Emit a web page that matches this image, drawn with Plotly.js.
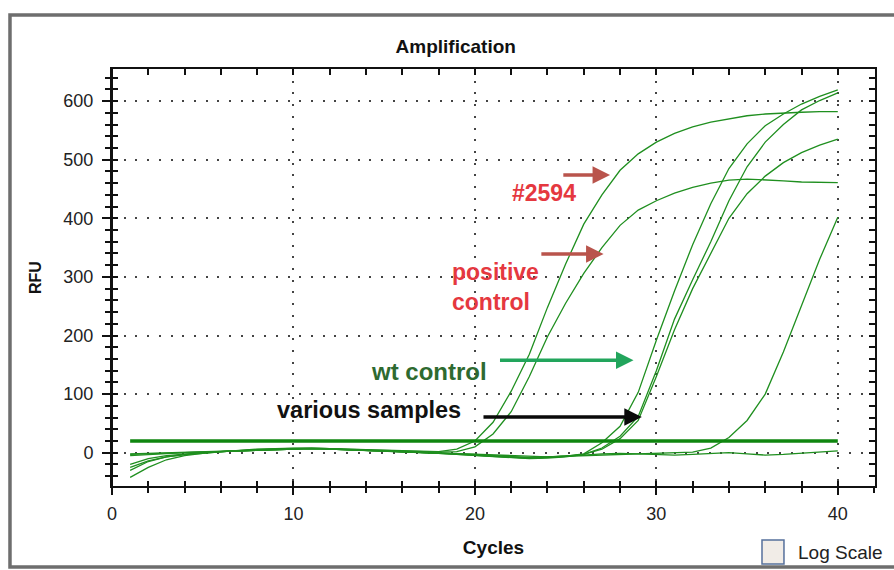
<!DOCTYPE html>
<html>
<head>
<meta charset="utf-8">
<script src="https://cdn.plot.ly/plotly-3.0.1.min.js"></script>
<style>
  html, body { margin: 0; padding: 0; background: #ffffff; overflow: hidden; }
  #chart { width: 894px; height: 570px; }
</style>
</head>
<body>
<div id="chart"></div>
<script>
// ---- data ----
const cycles = [1,2,3,4,5,6,7,8,9,10,11,12,13,14,15,16,17,18,19,20,
                21,22,23,24,25,26,27,28,29,30,31,32,33,34,35,36,37,38,39,40];

// #2594
const sample2594 = [-20,-10,-5,-2,0,2,4,6,7,8,8,7,6,5,4,3,2,2,
                    6,20,52,105,168,248,322,390,440,482,510,530,545,556,564,570,575,578,580,581,582,582];
// positive control
const positiveControl = [-30,-15,-7,-3,-1,2,4,6,7,8,8,7,6,5,4,3,2,1,2,
                         10,32,70,130,198,255,306,350,388,414,430,443,453,460,465,467,466,464,462,461,461];
// wt control
const wtControl = [-5,-3,-1,0,1,2,4,5,6,7,7,6,5,4,3,2,1,0,-2,-4,-6,-8,-9,-8,-6,-2,
                   17,45,103,192,276,355,425,485,527,558,578,595,608,619];
// various samples
const sampleA = [-42,-25,-12,-5,-1,2,3,5,6,7,8,7,5,4,3,2,1,-1,-3,-5,-7,-9,-10,-9,-7,-3,
                 8,28,62,140,228,295,360,430,488,530,560,585,601,614];
const sampleB = [-25,-14,-7,-3,0,2,3,5,6,6,7,6,5,4,3,2,0,-1,-3,-5,-6,-8,-9,-8,-6,-3,
                 6,24,55,130,210,280,340,400,442,472,495,512,525,535];
const sampleC = [-2,-1,0,1,2,3,4,5,6,7,7,6,5,4,3,2,1,0,-1,-2,-4,-5,-6,-7,-6,-5,-4,-3,-3,-2,-1,1,
                 8,26,55,100,172,252,330,402];
const negative = [-3,-2,-1,0,1,2,4,5,6,7,7,6,5,4,3,2,1,0,-1,-3,-5,-7,-8,-7,-6,-4,-2,-1,-2,-3,
                  -4,-3,-2,0,-2,-4,-3,-1,0,3];
const thresholdCycles = [1, 40];
const thresholdValue = 20;

// ticks: labelled every 10 cycles / 100 RFU, small marks every 2 cycles / 20 RFU
const xMajorStep = 10, xMinorStep = 2;
const yMajorStep = 100, yMinorStep = 20;

// ---- styling ----
const FONT = 'Liberation Sans, Arial, Helvetica, sans-serif';
const CURVE = '#1f8f1f';
const curveSeries = [sample2594, positiveControl, wtControl, sampleA, sampleB, sampleC, negative];

const traces = curveSeries.map(vals => ({
  type: 'scatter', mode: 'lines', x: cycles, y: vals,
  line: { color: CURVE, width: 1.3 }, showlegend: false, hoverinfo: 'skip'
}));
traces.push({
  type: 'scatter', mode: 'lines', x: thresholdCycles,
  y: thresholdCycles.map(() => thresholdValue),
  line: { color: '#0f860f', width: 3.5 }, showlegend: false, hoverinfo: 'skip'
});
// single-point (invisible) line traces that create the extra tick-mark axes
['2', '3', '4'].forEach(n => traces.push({
  type: 'scatter', mode: 'lines', x: [cycles[0]], y: [negative[0]],
  xaxis: 'x' + n, yaxis: 'y' + n, line: { width: 0 }, showlegend: false, hoverinfo: 'skip'
}));

const XR = [0, 42.05];
const YR = [-56.8, 654.8];

const TICKFONT = { family: FONT, size: 18, color: '#222' };

function tickAxis(extra) {
  return Object.assign({
    showline: true, linecolor: '#111', linewidth: 2, zeroline: false, showgrid: false,
    showticklabels: false, tickmode: 'linear', tick0: 0, tickwidth: 2, tickcolor: '#111'
  }, extra);
}

const layout = {
  width: 894, height: 570,
  margin: { l: 112, r: 19, t: 69, b: 84, pad: 0 },
  paper_bgcolor: '#ffffff', plot_bgcolor: '#ffffff',
  showlegend: false,
  title: {
    text: '<b>Amplification</b>',
    font: { family: FONT, size: 19, color: '#111' },
    xref: 'paper', x: 0.4505, xanchor: 'center',
    yref: 'container', y: 1 - 46 / 570, yanchor: 'middle'
  },
  xaxis: {
    range: XR, tickmode: 'linear', tick0: 0, dtick: xMajorStep,
    showline: true, linecolor: '#111', linewidth: 2, zeroline: false,
    ticks: 'outside', ticklen: 7, tickwidth: 2, tickcolor: '#111',
    tickfont: TICKFONT, ticklabelstandoff: 3,
    showgrid: true, gridcolor: '#444', gridwidth: 2, griddash: '2px,9.7px',
    title: { text: '<b>Cycles</b>', font: { family: FONT, size: 19, color: '#111' }, standoff: 18 }
  },
  yaxis: {
    range: YR, tickmode: 'linear', tick0: 0, dtick: yMajorStep,
    showline: true, linecolor: '#111', linewidth: 2, zeroline: false,
    ticks: 'outside', ticklen: 8, tickwidth: 2, tickcolor: '#111',
    tickfont: TICKFONT, ticklabelstandoff: 5,
    showgrid: true, gridcolor: '#444', gridwidth: 2, griddash: '2px,9.7px',
    title: { text: '<b>RFU</b>', font: { family: FONT, size: 16, color: '#111' }, standoff: 18 }
  },
  // top and right frame: small inward marks
  xaxis2: tickAxis({ overlaying: 'x', side: 'top', anchor: 'y2', range: XR, dtick: xMinorStep,
    ticks: 'inside', ticklen: 6 }),
  yaxis2: tickAxis({ overlaying: 'y', side: 'right', anchor: 'x2', range: YR, dtick: yMinorStep,
    ticks: 'inside', ticklen: 6 }),
  // bottom and left: small marks crossing the axis line
  xaxis3: tickAxis({ overlaying: 'x', side: 'bottom', anchor: 'y3', range: XR, dtick: xMinorStep,
    ticks: 'outside', ticklen: 5 }),
  yaxis3: tickAxis({ overlaying: 'y', side: 'left', anchor: 'free', position: 0, range: YR,
    dtick: yMinorStep, ticks: 'outside', ticklen: 6 }),
  xaxis4: tickAxis({ overlaying: 'x', side: 'bottom', anchor: 'y4', range: XR, dtick: xMinorStep,
    ticks: 'inside', ticklen: 5 }),
  yaxis4: tickAxis({ overlaying: 'y', side: 'left', anchor: 'free', position: 0, range: YR,
    dtick: yMinorStep, ticks: 'inside', ticklen: 5 }),
  shapes: [
    // outer window frame: top, left and bottom edges (the right edge is off the picture)
    { type: 'path', xref: 'paper', yref: 'paper',
      path: 'M 1.2,1.1295 L -0.1337,1.1295 L -0.1337,-0.1942 L 1.2,-0.1942',
      line: { color: '#6e6e6e', width: 3.5 }, layer: 'below' },
    // Log Scale checkbox
    { type: 'rect', xref: 'paper', yref: 'paper', x0: 0.8519, x1: 0.8807, y0: -0.187, y1: -0.1295,
      line: { color: '#56709c', width: 1.5 }, fillcolor: '#f1ece7' }
  ],
  annotations: [
    { xref: 'paper', yref: 'paper', x: 0.8965, y: -0.1595, xanchor: 'left', yanchor: 'middle',
      text: 'Log Scale', showarrow: false, font: { family: FONT, size: 19, color: '#222' } },

    { x: 23.82, y: 444, text: '<b>#2594</b>', showarrow: false, xanchor: 'center', yanchor: 'middle',
      font: { family: FONT, size: 23, color: '#e5383f' } },
    { x: 18.65, y: 283, text: '<b>positive<br>control</b>', showarrow: false, align: 'left',
      xanchor: 'left', yanchor: 'middle', font: { family: FONT, size: 23, color: '#e5383f' } },
    { x: 17.49, y: 138, text: '<b>wt control</b>', showarrow: false, xanchor: 'center', yanchor: 'middle',
      font: { family: FONT, size: 24, color: '#2e6a30' } },
    { x: 14.19, y: 73, text: '<b>various samples</b>', showarrow: false, xanchor: 'center', yanchor: 'middle',
      font: { family: FONT, size: 23.5, color: '#111' } },

    { x: 27.45, y: 474, ax: 24.79, ay: 474, axref: 'x', ayref: 'y', text: '', showarrow: true,
      arrowhead: 2, arrowsize: 1, arrowwidth: 3.5, arrowcolor: '#b9544c', standoff: 0 },
    { x: 27.09, y: 339, ax: 23.58, ay: 339, axref: 'x', ayref: 'y', text: '', showarrow: true,
      arrowhead: 2, arrowsize: 1, arrowwidth: 3.5, arrowcolor: '#b9544c', standoff: 0 },
    { x: 28.74, y: 158, ax: 21.30, ay: 158, axref: 'x', ayref: 'y', text: '', showarrow: true,
      arrowhead: 2, arrowsize: 1, arrowwidth: 3.5, arrowcolor: '#22a55c', standoff: 0 },
    { x: 29.20, y: 61, ax: 20.39, ay: 61, axref: 'x', ayref: 'y', text: '', showarrow: true,
      arrowhead: 2, arrowsize: 1, arrowwidth: 3.5, arrowcolor: '#0a0a0a', standoff: 0 }
  ]
};

Plotly.newPlot('chart', traces, layout, { staticPlot: true, displayModeBar: false });
</script>
</body>
</html>
